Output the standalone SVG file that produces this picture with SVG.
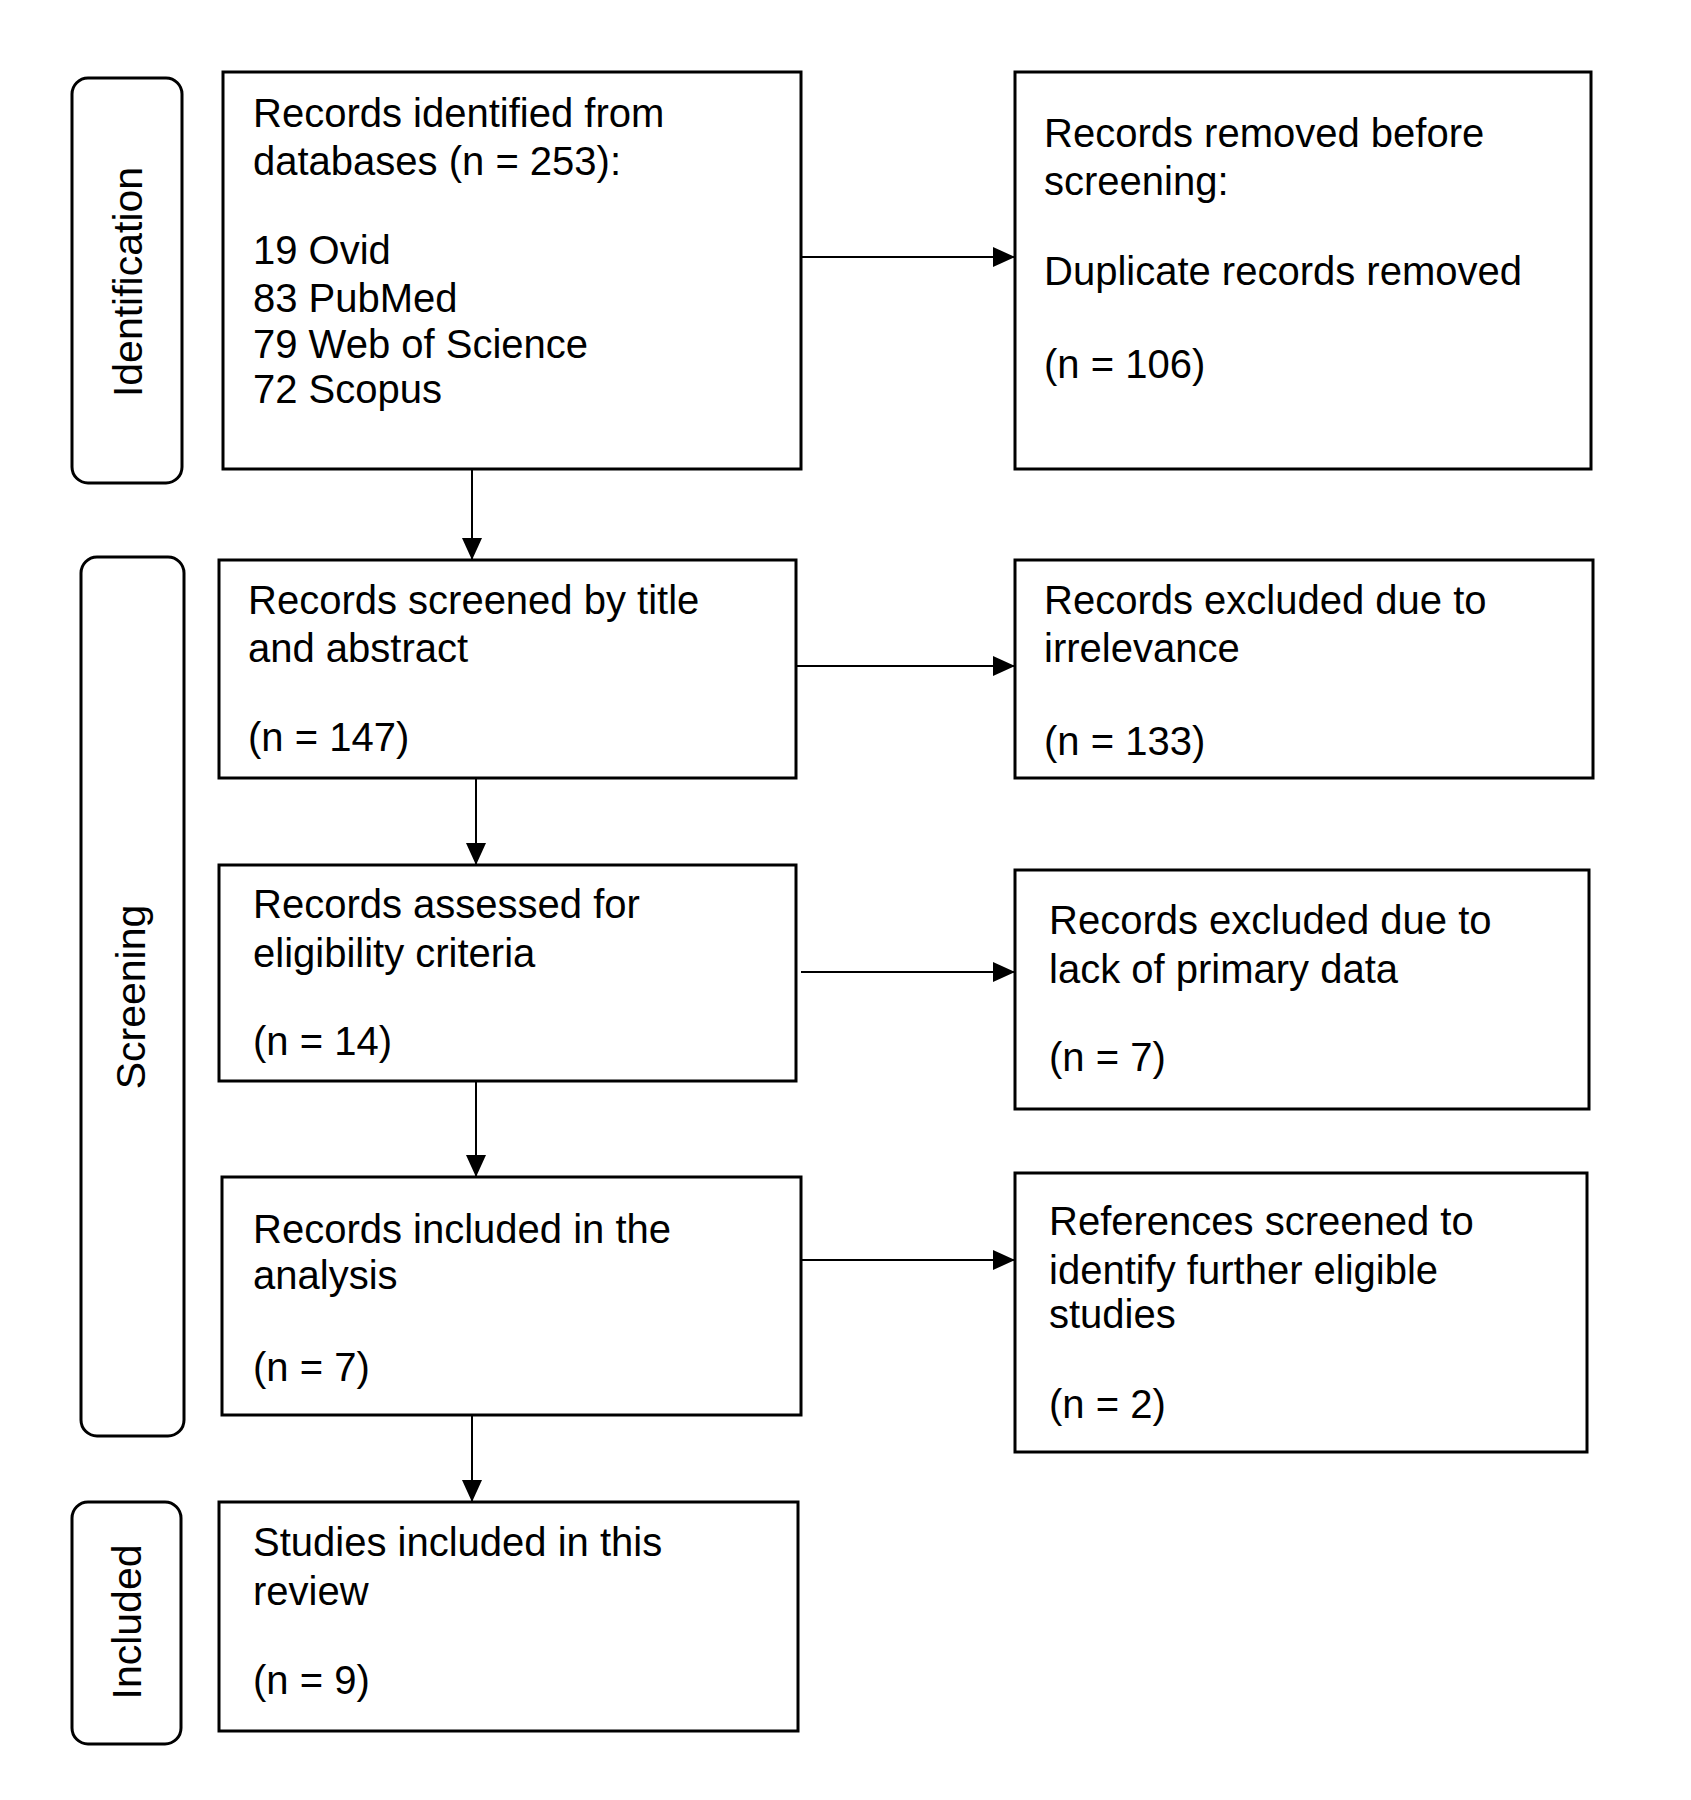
<svg xmlns="http://www.w3.org/2000/svg" width="1691" height="1800" viewBox="0 0 1691 1800">
<style>
.box{fill:#fff;stroke:#000;stroke-width:3}
.lab{fill:#fff;stroke:#000;stroke-width:3}
.t{font-family:"Liberation Sans",Arial,sans-serif;font-size:40px;fill:#000}
.v{font-family:"Liberation Sans",Arial,sans-serif;font-size:41px;fill:#000;text-anchor:middle;dominant-baseline:central}
.c{stroke:#000;stroke-width:2;fill:none;marker-end:url(#ah)}
</style>
<defs>
<marker id="ah" markerUnits="userSpaceOnUse" markerWidth="24" markerHeight="22" refX="22" refY="11" orient="auto">
<path d="M0,1 L22,11 L0,21 z" fill="#000"/>
</marker>
</defs>
<rect width="1691" height="1800" fill="#fff"/>
<g id="connectors">
<line class="c" x1="801" y1="257" x2="1015" y2="257"/>
<line class="c" x1="472" y1="469" x2="472" y2="560"/>
<line class="c" x1="796" y1="666" x2="1015" y2="666"/>
<line class="c" x1="476" y1="778" x2="476" y2="865"/>
<line class="c" x1="801" y1="972" x2="1015" y2="972"/>
<line class="c" x1="476" y1="1081" x2="476" y2="1177"/>
<line class="c" x1="801" y1="1260" x2="1015" y2="1260"/>
<line class="c" x1="472" y1="1415" x2="472" y2="1502"/>
</g>
<g id="label-identification">
<rect class="lab" x="72" y="78" width="110" height="405" rx="16"/>
<text class="v" transform="translate(128,282) rotate(-90)">Identification</text>
</g>
<g id="label-screening">
<rect class="lab" x="81" y="557" width="103" height="879" rx="16"/>
<text class="v" transform="translate(131,997) rotate(-90)">Screening</text>
</g>
<g id="label-included">
<rect class="lab" x="72" y="1502" width="109" height="242" rx="16"/>
<text class="v" transform="translate(127,1622) rotate(-90)">Included</text>
</g>
<g id="box-identified">
<rect class="box" x="223" y="72" width="578" height="397"/>
<text class="t" x="253" y="127">Records identified from</text>
<text class="t" x="253" y="175">databases (n = 253):</text>
<text class="t" x="253" y="264">19 Ovid</text>
<text class="t" x="253" y="312">83 PubMed</text>
<text class="t" x="253" y="358">79 Web of Science</text>
<text class="t" x="253" y="403">72 Scopus</text>
</g>
<g id="box-removed">
<rect class="box" x="1015" y="72" width="576" height="397"/>
<text class="t" x="1044" y="147">Records removed before</text>
<text class="t" x="1044" y="195">screening:</text>
<text class="t" x="1044" y="285">Duplicate records removed</text>
<text class="t" x="1044" y="378">(n = 106)</text>
</g>
<g id="box-screened">
<rect class="box" x="219" y="560" width="577" height="218"/>
<text class="t" x="248" y="614">Records screened by title</text>
<text class="t" x="248" y="662">and abstract</text>
<text class="t" x="248" y="751">(n = 147)</text>
</g>
<g id="box-irrelevance">
<rect class="box" x="1015" y="560" width="578" height="218"/>
<text class="t" x="1044" y="614">Records excluded due to</text>
<text class="t" x="1044" y="662">irrelevance</text>
<text class="t" x="1044" y="755">(n = 133)</text>
</g>
<g id="box-assessed">
<rect class="box" x="219" y="865" width="577" height="216"/>
<text class="t" x="253" y="918">Records assessed for</text>
<text class="t" x="253" y="967">eligibility criteria</text>
<text class="t" x="253" y="1055">(n = 14)</text>
</g>
<g id="box-primary">
<rect class="box" x="1015" y="870" width="574" height="239"/>
<text class="t" x="1049" y="934">Records excluded due to</text>
<text class="t" x="1049" y="983">lack of primary data</text>
<text class="t" x="1049" y="1071">(n = 7)</text>
</g>
<g id="box-analysis">
<rect class="box" x="222" y="1177" width="579" height="238"/>
<text class="t" x="253" y="1243">Records included in the</text>
<text class="t" x="253" y="1289">analysis</text>
<text class="t" x="253" y="1381">(n = 7)</text>
</g>
<g id="box-references">
<rect class="box" x="1015" y="1173" width="572" height="279"/>
<text class="t" x="1049" y="1235">References screened to</text>
<text class="t" x="1049" y="1284">identify further eligible</text>
<text class="t" x="1049" y="1328">studies</text>
<text class="t" x="1049" y="1418">(n = 2)</text>
</g>
<g id="box-review">
<rect class="box" x="219" y="1502" width="579" height="229"/>
<text class="t" x="253" y="1556">Studies included in this</text>
<text class="t" x="253" y="1605">review</text>
<text class="t" x="253" y="1694">(n = 9)</text>
</g>
</svg>
